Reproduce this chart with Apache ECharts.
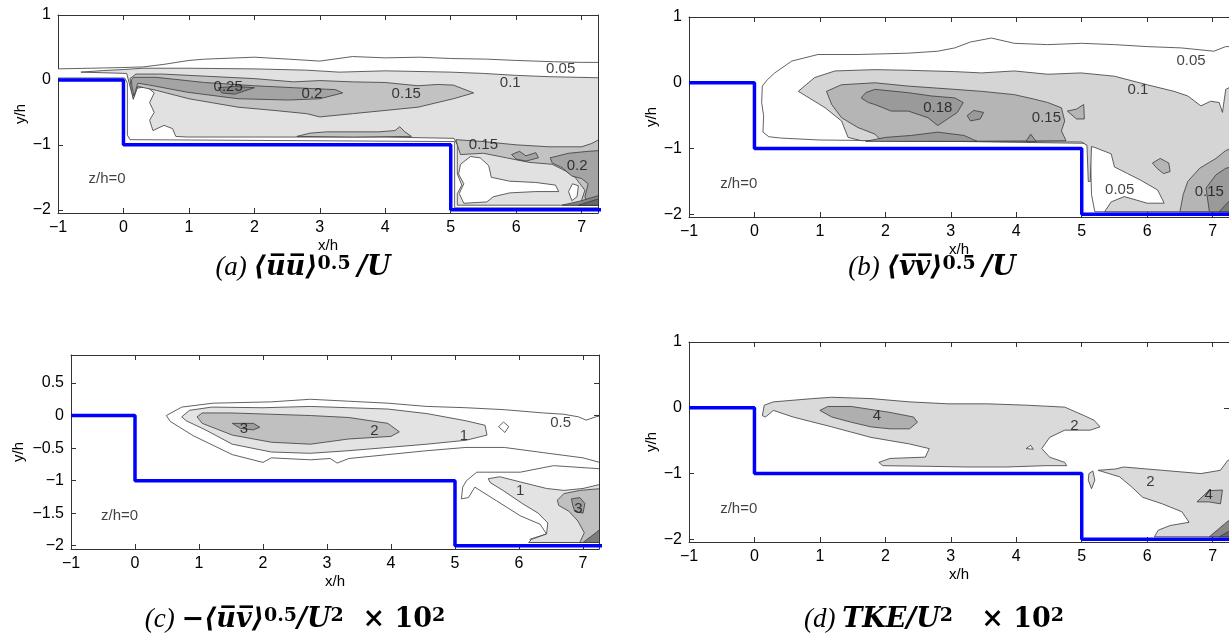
<!DOCTYPE html>
<html>
<head>
<meta charset="utf-8">
<script src="https://cdn.jsdelivr.net/npm/echarts@6/dist/echarts.min.js"></script>
<style>
  html, body { margin: 0; padding: 0; background: #fff; }
  #main { width: 1229px; height: 641px; }
</style>
</head>
<body>
<div id="main"></div>
<script>
// ticks
var xTicks = [-1, 0, 1, 2, 3, 4, 5, 6, 7];
var yTicksA = [-2, -1, 0, 1];
var yTicksB = [-2, -1, 0, 1];
var yTicksC = [-2, -1.5, -1, -0.5, 0, 0.5];
var yTicksD = [-2, -1, 0, 1];

// backward-facing double step (wall outline)
var stepLine = [[-1, 0], [0, 0], [0, -1], [5, -1], [5, -2], [7.4, -2]];

// (a) <uu>^0.5/U contour regions, drawn in order
var contourA = [
  { level: 0.05, pts: [[-1.01,0.17],[-0.5,0.18],[-0.04,0.19],[0.3,0.2],[0.62,0.24],[1.0,0.3],[1.24,0.32],[2.0,0.35],[2.52,0.32],[3.0,0.29],[3.5,0.36],[4.0,0.34],[4.53,0.35],[5.0,0.33],[5.55,0.32],[6.0,0.3],[6.57,0.28],[7.0,0.27],[7.4,0.27],[7.4,-1.97],[5.06,-1.97],[5.06,-0.95],[0.1,-0.92],[0.06,-0.85],[0.06,-0.05],[0.02,0.03],[-1.01,0.03]] },
  { level: 0.1, pts: [[-0.65,0.12],[-0.3,0.145],[0.0,0.16],[0.3,0.18],[1.0,0.18],[2.0,0.17],[2.8,0.15],[3.3,0.12],[4.0,0.14],[4.5,0.13],[5.0,0.12],[5.5,0.1],[6.0,0.07],[6.5,0.05],[7.4,0.03],[7.4,-1.93],[5.1,-1.93],[5.1,-1.75],[5.17,-1.62],[5.1,-1.45],[5.1,-1.0],[5.05,-0.9],[4.0,-0.88],[2.0,-0.88],[0.98,-0.88],[0.8,-0.87],[0.75,-0.75],[0.62,-0.7],[0.45,-0.78],[0.4,-0.62],[0.47,-0.5],[0.4,-0.35],[0.47,-0.2],[0.35,-0.1],[0.2,-0.13],[0.15,-0.28],[0.1,-0.1],[0.05,0.1],[-0.3,0.11]] },
  { level: 0.15, pts: [[0.1,0.02],[0.19,0.09],[0.6,0.09],[1.0,0.07],[2.0,0.02],[2.6,-0.03],[3.0,-0.01],[3.5,-0.03],[4.0,-0.04],[4.5,-0.09],[4.8,-0.07],[5.04,-0.08],[5.35,-0.2],[5.04,-0.29],[4.5,-0.42],[4.0,-0.47],[3.5,-0.52],[3.0,-0.57],[2.8,-0.52],[2.3,-0.47],[1.75,-0.42],[1.0,-0.29],[0.5,-0.16],[0.22,-0.1],[0.15,-0.3],[0.12,-0.15]] },
  { level: 0.15, pts: [[2.65,-0.87],[2.85,-0.82],[3.1,-0.8],[3.5,-0.8],[3.9,-0.8],[4.15,-0.78],[4.22,-0.72],[4.3,-0.8],[4.4,-0.87],[3.5,-0.88]] },
  { level: 0.15, pts: [[5.08,-0.92],[5.5,-0.95],[6.0,-1.0],[6.5,-1.03],[7.0,-1.03],[7.15,-0.98],[7.4,-0.85],[7.4,-1.93],[6.95,-1.93],[7.0,-1.85],[7.05,-1.7],[6.9,-1.5],[6.75,-1.4],[6.55,-1.3],[6.2,-1.27],[5.85,-1.2],[5.5,-1.13],[5.15,-1.15],[5.1,-1.0]] },
  { level: 0.2, pts: [[0.12,0.0],[0.16,0.04],[0.5,0.04],[1.24,-0.04],[2.0,-0.09],[2.6,-0.12],[3.24,-0.15],[3.35,-0.2],[3.0,-0.29],[2.52,-0.31],[1.75,-0.29],[0.98,-0.19],[0.4,-0.08],[0.22,-0.05],[0.16,-0.25],[0.13,-0.1]] },
  { level: 0.2, pts: [[5.93,-1.15],[6.05,-1.1],[6.15,-1.17],[6.3,-1.12],[6.34,-1.2],[6.15,-1.25],[6.0,-1.22]] },
  { level: 0.2, pts: [[6.52,-1.2],[6.8,-1.13],[7.1,-1.1],[7.4,-1.08],[7.4,-1.93],[7.1,-1.93],[7.05,-1.8],[7.1,-1.6],[7.0,-1.52],[6.85,-1.48],[6.7,-1.35],[6.55,-1.28]] },
  { level: 0.25, pts: [[1.45,-0.12],[1.7,-0.1],[2.0,-0.12],[1.85,-0.17],[1.7,-0.22],[1.5,-0.2]] },
  { level: 0.25, pts: [[6.7,-1.93],[7.0,-1.86],[7.4,-1.74],[7.4,-1.93]] },
  { level: 0.3, pts: [[6.95,-1.93],[7.2,-1.85],[7.4,-1.8],[7.4,-1.93]] },
  { level: 0.05, pts: [[5.15,-1.3],[5.3,-1.18],[5.45,-1.2],[5.58,-1.32],[5.62,-1.5],[5.9,-1.56],[6.3,-1.58],[6.6,-1.62],[6.65,-1.72],[6.3,-1.72],[5.9,-1.74],[5.65,-1.8],[5.55,-1.88],[5.2,-1.9],[5.13,-1.75],[5.2,-1.6],[5.12,-1.45]] },
  { level: 0.05, pts: [[6.8,-1.72],[6.86,-1.6],[6.95,-1.63],[6.93,-1.8],[6.85,-1.86]] }
];
var labelsA = [[1.6,-0.11,'0.25'],[2.88,-0.21,'0.2'],[4.32,-0.21,'0.15'],[5.91,-0.04,'0.1'],[6.68,0.17,'0.05'],[5.5,-1.0,'0.15'],[6.93,-1.33,'0.2'],[-0.25,-1.53,'z/h=0']];

// (b) <vv>^0.5/U
var contourB = [
  { level: 0.05, pts: [[0.12,-0.05],[0.2,0.05],[0.31,0.15],[0.57,0.33],[0.97,0.43],[1.58,0.43],[2.35,0.45],[2.8,0.48],[3.06,0.53],[3.3,0.62],[3.62,0.68],[3.97,0.6],[4.48,0.58],[5.0,0.6],[5.5,0.58],[6.0,0.55],[6.52,0.53],[7.02,0.48],[7.2,0.55],[7.4,0.55],[7.4,-1.96],[5.2,-1.96],[5.15,-1.7],[5.13,-1.0],[5.05,-0.92],[3.0,-0.89],[1.0,-0.87],[0.4,-0.84],[0.22,-0.82],[0.13,-0.75],[0.14,-0.5],[0.11,-0.3]] },
  { level: 0.1, pts: [[0.67,-0.13],[0.8,-0.02],[0.92,0.08],[1.23,0.18],[1.84,0.2],[2.35,0.19],[3.06,0.17],[3.47,0.15],[3.97,0.18],[4.48,0.13],[4.99,0.15],[5.5,0.1],[6.0,-0.03],[6.41,-0.13],[6.62,-0.2],[6.82,-0.35],[6.97,-0.28],[7.1,-0.3],[7.15,-0.45],[7.2,-0.1],[7.4,0.0],[7.4,-1.96],[5.35,-1.96],[5.45,-1.81],[5.65,-1.73],[6.0,-1.83],[6.26,-1.83],[6.16,-1.63],[5.9,-1.48],[5.7,-1.38],[5.5,-1.28],[5.45,-1.08],[5.19,-0.98],[5.15,-0.97],[5.13,-1.5],[5.1,-1.5],[5.08,-0.95],[5.0,-0.9],[3.0,-0.89],[1.63,-0.88],[1.43,-0.83],[1.33,-0.58],[1.08,-0.38]] },
  { level: 0.15, pts: [[1.1,-0.13],[1.33,-0.03],[1.84,0.0],[2.35,-0.05],[3.06,-0.1],[3.47,-0.13],[3.97,-0.18],[4.28,-0.25],[4.48,-0.3],[4.69,-0.38],[4.74,-0.58],[4.69,-0.73],[4.76,-0.88],[3.0,-0.89],[1.94,-0.88],[1.84,-0.78],[1.58,-0.68],[1.33,-0.53],[1.18,-0.33]] },
  { level: 0.15, pts: [[4.78,-0.43],[4.92,-0.4],[5.03,-0.33],[5.04,-0.55],[4.92,-0.55]] },
  { level: 0.15, pts: [[6.08,-1.22],[6.2,-1.15],[6.33,-1.22],[6.35,-1.35],[6.25,-1.38],[6.15,-1.3]] },
  { level: 0.15, pts: [[6.5,-1.96],[6.55,-1.7],[6.62,-1.5],[6.8,-1.3],[7.05,-1.15],[7.2,-1.03],[7.4,-0.95],[7.4,-1.96]] },
  { level: 0.18, pts: [[1.63,-0.23],[1.7,-0.15],[1.84,-0.1],[2.35,-0.15],[2.7,-0.2],[3.06,-0.23],[3.19,-0.3],[3.1,-0.45],[2.95,-0.55],[2.8,-0.65],[2.65,-0.53],[2.35,-0.43],[2.09,-0.43],[1.84,-0.33],[1.74,-0.3]] },
  { level: 0.18, pts: [[3.25,-0.5],[3.35,-0.42],[3.5,-0.45],[3.45,-0.55],[3.3,-0.58]] },
  { level: 0.18, pts: [[1.7,-0.89],[2.0,-0.83],[2.4,-0.8],[2.8,-0.75],[3.2,-0.8],[3.4,-0.89]] },
  { level: 0.18, pts: [[4.15,-0.89],[4.22,-0.78],[4.3,-0.89]] },
  { level: 0.18, pts: [[6.95,-1.96],[6.9,-1.6],[7.05,-1.4],[7.2,-1.3],[7.4,-1.25],[7.4,-1.96]] },
  { level: 0.2, pts: [[7.1,-1.96],[7.25,-1.8],[7.4,-1.7],[7.4,-1.96]] }
];
var labelsB = [[2.8,-0.38,'0.18'],[4.46,-0.53,'0.15'],[5.86,-0.1,'0.1'],[6.67,0.33,'0.05'],[5.58,-1.63,'0.05'],[6.95,-1.66,'0.15'],[-0.24,-1.53,'z/h=0']];

// (c) -<uv>^0.5/U^2 x 10^2
var contourC = [
  { level: 0.5, pts: [[0.49,0],[0.73,0.13],[1.22,0.19],[2.13,0.21],[2.74,0.25],[3.34,0.22],[3.95,0.19],[4.56,0.14],[5.17,0.12],[5.77,0.09],[6.38,0.04],[6.7,0.02],[6.93,-0.02],[7.05,-0.07],[7.2,-0.02],[7.3,0.0],[7.3,-0.73],[7.0,-0.65],[6.38,-0.57],[5.77,-0.49],[5.17,-0.49],[4.56,-0.54],[3.95,-0.6],[3.34,-0.66],[3.16,-0.73],[3.05,-0.66],[2.74,-0.68],[2.13,-0.65],[2.0,-0.72],[1.52,-0.6],[0.91,-0.31],[0.55,-0.09]] },
  { level: 0.5, pts: [[5.1,-1.28],[5.12,-1.1],[5.18,-1.0],[5.34,-0.87],[6.02,-0.87],[6.54,-0.77],[7.3,-0.82],[7.3,-1.95],[6.2,-1.95],[6.17,-1.9],[6.43,-1.82],[6.33,-1.67],[6.02,-1.54],[5.65,-1.31],[5.31,-1.1],[5.21,-1.26]] },
  { level: 0.5, pts: [[5.68,-0.17],[5.76,-0.1],[5.84,-0.17],[5.78,-0.26]] },
  { level: 1, pts: [[0.73,-0.02],[0.85,0.08],[1.2,0.13],[2.0,0.12],[2.74,0.14],[3.34,0.12],[3.95,0.1],[4.56,0.03],[5.17,-0.08],[5.47,-0.15],[5.5,-0.3],[5.17,-0.38],[4.56,-0.44],[3.95,-0.49],[3.34,-0.54],[2.74,-0.58],[2.13,-0.56],[1.52,-0.44],[1.1,-0.22],[0.8,-0.08]] },
  { level: 1, pts: [[5.52,-0.97],[5.7,-0.94],[6.02,-1.02],[6.43,-1.12],[6.7,-1.15],[7.0,-1.12],[7.3,-1.05],[7.3,-1.95],[6.15,-1.95],[6.2,-1.9],[6.43,-1.82],[6.45,-1.65],[6.3,-1.5],[6.05,-1.35],[5.75,-1.15],[5.55,-1.03]] },
  { level: 2, pts: [[0.97,-0.02],[1.05,0.04],[1.5,0.04],[2.13,0.02],[2.74,0.0],[3.34,-0.03],[3.95,-0.12],[4.13,-0.25],[4.0,-0.32],[3.34,-0.36],[2.74,-0.44],[2.13,-0.41],[1.52,-0.3],[1.05,-0.12]] },
  { level: 2, pts: [[6.6,-1.3],[6.7,-1.2],[6.95,-1.15],[7.3,-1.12],[7.3,-1.95],[6.95,-1.95],[7.02,-1.8],[6.92,-1.62],[6.78,-1.47],[6.62,-1.38]] },
  { level: 3, pts: [[1.52,-0.12],[1.85,-0.12],[1.95,-0.18],[1.85,-0.22],[1.65,-0.2]] },
  { level: 3, pts: [[6.82,-1.28],[6.95,-1.26],[7.03,-1.35],[7.0,-1.5],[6.87,-1.47],[6.84,-1.38]] },
  { level: 4, pts: [[7.0,-1.95],[7.2,-1.8],[7.3,-1.72],[7.3,-1.95]] }
];
var labelsC = [[1.7,-0.2,'3'],[3.74,-0.23,'2'],[5.14,-0.31,'1'],[6.65,-0.12,'0.5'],[6.02,-1.15,'1'],[6.93,-1.44,'3'],[-0.24,-1.54,'z/h=0']];

// (d) TKE/U^2 x 10^2
var contourD = [
  { level: 2, pts: [[0.12,-0.12],[0.15,0.04],[0.29,0.09],[0.89,0.14],[1.18,0.16],[1.78,0.14],[2.37,0.09],[2.96,0.06],[3.56,0.06],[4.15,0.04],[4.74,0.01],[5.04,-0.12],[5.19,-0.19],[5.28,-0.29],[5.13,-0.34],[4.74,-0.34],[4.51,-0.45],[4.39,-0.62],[4.51,-0.75],[4.74,-0.83],[4.77,-0.88],[4.45,-0.88],[3.85,-0.9],[3.26,-0.9],[2.67,-0.89],[1.96,-0.88],[1.9,-0.83],[2.07,-0.77],[2.61,-0.75],[2.67,-0.62],[2.37,-0.55],[1.78,-0.45],[1.18,-0.29],[0.59,-0.14],[0.29,-0.04],[0.17,-0.14]] },
  { level: 1, pts: [[4.15,-0.62],[4.22,-0.57],[4.26,-0.63]] },
  { level: 4, pts: [[1.0,-0.04],[1.12,0.02],[1.48,0.02],[2.07,-0.07],[2.43,-0.14],[2.49,-0.22],[2.37,-0.32],[2.07,-0.32],[1.78,-0.29],[1.48,-0.22],[1.18,-0.14]] },
  { level: 2, pts: [[5.11,-1.0],[5.17,-0.96],[5.2,-1.1],[5.15,-1.23],[5.1,-1.1]] },
  { level: 2, pts: [[5.25,-0.95],[5.52,-0.93],[5.64,-0.9],[6.23,-0.95],[6.82,-1.0],[7.12,-0.95],[7.23,-0.8],[7.4,-0.75],[7.4,-1.96],[6.11,-1.96],[6.17,-1.86],[6.35,-1.79],[6.64,-1.74],[6.53,-1.58],[6.23,-1.46],[5.93,-1.36],[5.76,-1.2],[5.58,-1.05]] },
  { level: 4, pts: [[6.76,-1.43],[6.94,-1.26],[7.15,-1.25],[7.12,-1.46],[6.94,-1.43]] },
  { level: 6, pts: [[6.95,-1.96],[7.2,-1.75],[7.4,-1.6],[7.4,-1.96]] },
  { level: 8, pts: [[7.1,-1.96],[7.3,-1.85],[7.4,-1.8],[7.4,-1.96]] }
];
var labelsD = [[1.87,-0.13,'4'],[4.89,-0.27,'2'],[6.05,-1.13,'2'],[6.94,-1.33,'4'],[-0.24,-1.53,'z/h=0']];

var fillA = { 0.05: '#ffffff', 0.1: '#e1e1e1', 0.15: '#c2c2c2', 0.2: '#a4a4a4', 0.25: '#868686', 0.3: '#686868' };
var fillB = { 0.05: '#ffffff', 0.1: '#d5d5d5', 0.15: '#b5b5b5', 0.18: '#9a9a9a', 0.2: '#7c7c7c' };
var fillC = { 0.5: '#ffffff', 1: '#e3e3e3', 2: '#c0c0c0', 3: '#9e9e9e', 4: '#7c7c7c' };
var fillD = { 1: '#ffffff', 2: '#dadada', 4: '#afafaf', 6: '#888888', 8: '#666666' };

function fmt(v) { return v < 0 ? '\u2212' + Math.abs(v) : String(v); }

var grids = [
  { left: 58, top: 15, width: 540, height: 198, ymin: -2.05, ymax: 1, yTicks: yTicksA, nameGapY: 28, contour: contourA, fill: fillA, labels: labelsA },
  { left: 689, top: 17, width: 542, height: 200, ymin: -2.04, ymax: 1, yTicks: yTicksB, nameGapY: 30, contour: contourB, fill: fillB, labels: labelsB },
  { left: 71, top: 355, width: 528, height: 194, ymin: -2.05, ymax: 0.93, yTicks: yTicksC, nameGapY: 45, contour: contourC, fill: fillC, labels: labelsC },
  { left: 689, top: 342, width: 542, height: 200, ymin: -2.04, ymax: 1, yTicks: yTicksD, nameGapY: 30, contour: contourD, fill: fillD, labels: labelsD }
];

var font = 'Liberation Sans, Arial, sans-serif';
var axisLine = { show: true, onZero: false, lineStyle: { color: '#333', width: 1 } };

var option = { animation: false, backgroundColor: '#fff', grid: [], xAxis: [], yAxis: [], series: [] };

grids.forEach(function (g, i) {
  option.grid.push({ left: g.left, top: g.top, width: g.width, height: g.height, containLabel: false });
  option.xAxis.push({
    type: 'value', gridIndex: i, min: -1, max: 7.25, position: 'bottom',
    axisLine: axisLine, splitLine: { show: false },
    axisTick: { inside: true, length: 5, customValues: xTicks, lineStyle: { color: '#333' } },
    axisLabel: { customValues: xTicks, formatter: fmt, fontSize: 16, color: '#000', fontFamily: font, margin: 7 },
    name: 'x/h', nameLocation: 'middle', nameGap: 25,
    nameTextStyle: { fontSize: 15, color: '#000', fontFamily: font }
  });
  option.xAxis.push({
    type: 'value', gridIndex: i, min: -1, max: 7.25, position: 'top',
    axisLine: axisLine, splitLine: { show: false },
    axisTick: { inside: true, length: 5, customValues: xTicks, lineStyle: { color: '#333' } },
    axisLabel: { show: false }
  });
  option.yAxis.push({
    type: 'value', gridIndex: i, min: g.ymin, max: g.ymax, position: 'left',
    axisLine: axisLine, splitLine: { show: false },
    axisTick: { inside: true, length: 5, customValues: g.yTicks, lineStyle: { color: '#333' } },
    axisLabel: { customValues: g.yTicks, formatter: fmt, fontSize: 16, color: '#000', fontFamily: font, margin: 7 },
    name: 'y/h', nameLocation: 'middle', nameGap: g.nameGapY, nameRotate: 90,
    nameTextStyle: { fontSize: 15, color: '#000', fontFamily: font }
  });
  option.yAxis.push({
    type: 'value', gridIndex: i, min: g.ymin, max: g.ymax, position: 'right',
    axisLine: axisLine, splitLine: { show: false },
    axisTick: { inside: true, length: 5, customValues: g.yTicks, lineStyle: { color: '#333' } },
    axisLabel: { show: false }
  });

  option.series.push({
    type: 'custom', xAxisIndex: 2 * i, yAxisIndex: 2 * i, clip: true, z: 2,
    data: g.contour.map(function (c) { return c.pts[0]; }),
    encode: { x: 0, y: 1 },
    renderItem: function (params, api) {
      var c = g.contour[params.dataIndex];
      return {
        type: 'polygon',
        shape: { points: c.pts.map(function (p) { return api.coord(p); }) },
        style: { fill: g.fill[c.level], stroke: '#3a3a3a', lineWidth: 0.8 }
      };
    }
  });
  option.series.push({
    type: 'line', xAxisIndex: 2 * i, yAxisIndex: 2 * i, data: stepLine, clip: true, z: 5,
    symbol: 'none', lineStyle: { color: '#0000ff', width: 3.5 }
  });
  option.series.push({
    type: 'scatter', xAxisIndex: 2 * i, yAxisIndex: 2 * i, z: 6,
    data: g.labels, symbolSize: 1, itemStyle: { color: 'rgba(0,0,0,0)' },
    label: {
      show: true, position: 'inside', fontSize: 15, color: '#111', fontFamily: font,
      formatter: function (p) { return p.value[2]; }
    }
  });
});

var serifI = 'Liberation Serif, DejaVu Serif, serif';
var serifM = 'DejaVu Serif, Liberation Serif, serif';
var capRich = {
  i: { fontFamily: serifI, fontStyle: 'italic', fontSize: 27, color: '#000' },
  m: { fontFamily: serifM, fontStyle: 'italic', fontWeight: 'bold', fontSize: 27, color: '#000' },
  n: { fontFamily: serifM, fontWeight: 'bold', fontSize: 27, color: '#000' },
  s: { fontFamily: serifM, fontWeight: 'bold', fontSize: 19, color: '#000', verticalAlign: 'top', lineHeight: 16 }
};
function caption(x, y, text) {
  return { type: 'text', x: x, y: y, z: 10,
    style: { text: text, rich: capRich, align: 'center', verticalAlign: 'middle', textAlign: 'center', textVerticalAlign: 'middle' } };
}
option.graphic = [
  caption(303, 268, '{i|(a) }{m|\u27E8u\u0305u\u0305\u27E9}{s|0.5 }{m|/U}'),
  caption(932, 268, '{i|(b) }{m|\u27E8v\u0305v\u0305\u27E9}{s|0.5 }{m|/U}'),
  caption(295, 620, '{i|(c) }{n|\u2212}{m|\u27E8u\u0305v\u0305\u27E9}{s|0.5}{m|/U}{s|2}{n|  \u00D7 10}{s|2}'),
  caption(934, 620, '{i|(d) }{m|TKE/U}{s|2}{n|   \u00D7 10}{s|2}')
];

var chart = echarts.init(document.getElementById('main'));
chart.setOption(option);
</script>
</body>
</html>
